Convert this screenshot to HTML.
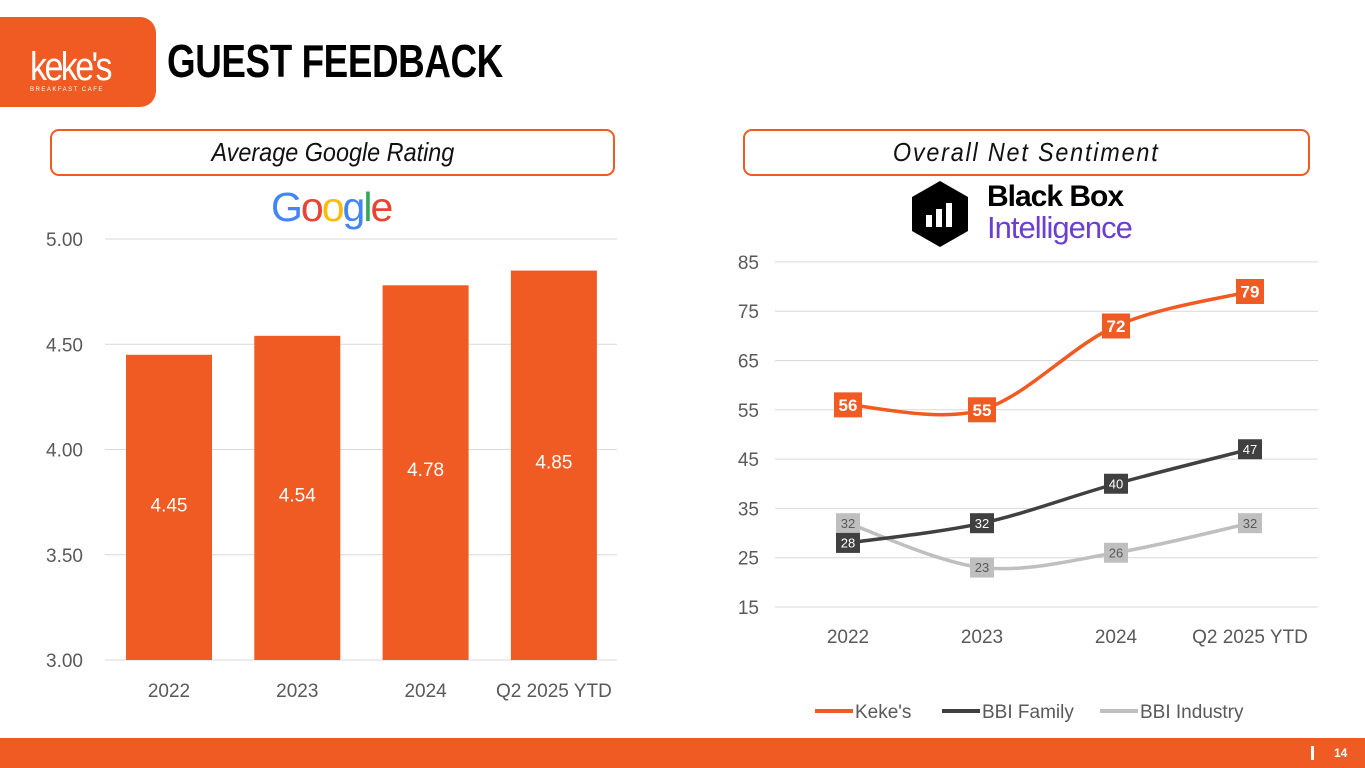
<!DOCTYPE html>
<html><head><meta charset="utf-8"><style>
body{margin:0;width:1365px;height:768px;background:#fff;position:relative;overflow:hidden;font-family:"Liberation Sans",sans-serif}
.abs{position:absolute}
.box{position:absolute;border:2px solid #F05A23;border-radius:9px;background:#fff;text-align:center;font-style:italic;font-size:26px;color:#111}
</style></head><body>
<div class="abs" style="left:0;top:17px;width:156px;height:90px;background:#F05A23;border-radius:0 16px 16px 0">
 <div class="abs" style="left:30px;top:30px;color:#fff;font-size:40px;letter-spacing:-3px;line-height:40px;transform:scaleX(0.85);transform-origin:left">keke's</div>
 <div class="abs" style="left:30px;top:70px;color:#fff;font-size:6px;letter-spacing:1.5px">BREAKFAST CAFE</div>
</div>
<div class="abs" style="left:167px;top:34px;font-size:46px;font-weight:bold;transform:scaleX(0.80);transform-origin:left;letter-spacing:-0.5px">GUEST FEEDBACK</div>
<div class="box" style="left:50px;top:129px;width:561px;height:43px;line-height:43px"><span style="display:inline-block;transform:scaleX(0.9)">Average Google Rating</span></div>
<div class="box" style="left:743px;top:129px;width:563px;height:43px;line-height:43px;letter-spacing:2px"><span style="display:inline-block;transform:scaleX(0.9)">Overall Net Sentiment</span></div>
<div class="abs" style="left:271px;top:184px;font-size:41px;letter-spacing:-2px"><span style="color:#4285F4">G</span><span style="color:#EA4335">o</span><span style="color:#FBBC05">o</span><span style="color:#4285F4">g</span><span style="color:#34A853">l</span><span style="color:#EA4335">e</span></div>
<svg class="abs" style="left:910px;top:181px" width="60" height="66"><polygon points="30,0 58,16 58,50 30,66 2,50 2,16" fill="#000"/><rect x="16" y="34" width="6" height="12" fill="#fff"/><rect x="26" y="28" width="6" height="18" fill="#fff"/><rect x="36" y="22" width="6" height="24" fill="#fff"/></svg>
<div class="abs" style="left:987px;top:181px;font-size:30px;font-weight:bold;line-height:32px;letter-spacing:-1px">Black Box</div>
<div class="abs" style="left:987px;top:211px;font-size:31px;color:#6B3FD0;line-height:34px;letter-spacing:-1px">Intelligence</div>
<svg id="c1" class="abs" style="left:0;top:0" width="1365" height="768"></svg>
<div class="abs" style="left:0;top:738px;width:1365px;height:30px;background:#F05A23">
 <div class="abs" style="left:1311px;top:8px;width:3px;height:14px;background:#fff"></div>
 <div class="abs" style="left:1334px;top:8px;color:#fff;font-size:12px;font-weight:bold">14</div>
</div>
<script>
const barCats=["2022","2023","2024","Q2 2025 YTD"];
const barVals=[4.45,4.54,4.78,4.85];
const barTicks=[3.00,3.50,4.00,4.50,5.00];
const lineCats=["2022","2023","2024","Q2 2025 YTD"];
const kekes=[56,55,72,79];
const bbiFamily=[28,32,40,47];
const bbiIndustry=[32,23,26,32];
const lineTicks=[15,25,35,45,55,65,75,85];
const svg=document.getElementById('c1');const NS="http://www.w3.org/2000/svg";
function mk(t,a,name){const e=document.createElementNS(NS,t);for(const k in a)e.setAttribute(k,a[k]);


svg.appendChild(e);return e;}
const narrow='Liberation Sans Narrow, Liberation Sans, sans-serif';
// bar chart
const y1=v=>660-(v-3)*210.5, x1=i=>169+i*128.3;
barTicks.forEach(t=>{mk('line',{x1:105,x2:617,y1:y1(t),y2:y1(t),stroke:'#d9d9d9','stroke-width':1},'bar-gridline');
const tx=mk('text',{x:83,y:y1(t)+7,'text-anchor':'end','font-size':19,fill:'#595959','font-family':narrow},'bar-y-tick');tx.textContent=t.toFixed(2);});
barVals.forEach((v,i)=>{mk('rect',{x:x1(i)-43,y:y1(v),width:86,height:660-y1(v),fill:'#F05A23'},'bar-'+barCats[i]);
const l=mk('text',{x:x1(i),y:y1(v)+(660-y1(v))*0.49+7,'text-anchor':'middle','font-size':19,fill:'#fff','font-family':narrow},'bar-value-label');l.textContent=v.toFixed(2);
const c=mk('text',{x:x1(i),y:697,'text-anchor':'middle','font-size':19,fill:'#595959','font-family':narrow},'bar-x-label');c.textContent=barCats[i];});
// line chart
const y2=v=>607-(v-15)*4.93, x2=i=>848+i*134;
lineTicks.forEach(t=>{mk('line',{x1:775,x2:1318,y1:y2(t),y2:y2(t),stroke:'#d9d9d9','stroke-width':1},'line-gridline');
const tx=mk('text',{x:759,y:y2(t)+7,'text-anchor':'end','font-size':19,fill:'#595959','font-family':narrow},'line-y-tick');tx.textContent=t;});
lineCats.forEach((c,i)=>{const t=mk('text',{x:x2(i),y:643,'text-anchor':'middle','font-size':19,fill:'#595959','font-family':narrow},'line-x-label');t.textContent=c;});
function smooth(vals){const p=vals.map((v,i)=>[x2(i),y2(v)]);let d=`M${p[0][0]},${p[0][1]}`;
for(let i=0;i<p.length-1;i++){const p0=p[Math.max(0,i-1)],p1=p[i],p2=p[i+1],p3=p[Math.min(p.length-1,i+2)];
d+=` C${p1[0]+(p2[0]-p0[0])/6},${p1[1]+(p2[1]-p0[1])/6} ${p2[0]-(p3[0]-p1[0])/6},${p2[1]-(p3[1]-p1[1])/6} ${p2[0]},${p2[1]}`;}return d;}
const series=[[bbiIndustry,'#BFBFBF','bbi-industry',13,'#595959'],[bbiFamily,'#404040','bbi-family',13,'#fff'],[kekes,'#F05A23','kekes',17,'#fff']];
series.forEach(([vals,col,name,fs,tc])=>{mk('path',{d:smooth(vals),fill:'none',stroke:col,'stroke-width':3.5},'line-'+name);
vals.forEach((v,i)=>{const w=fs>14?28:24,h=fs>14?25:20;
mk('rect',{x:x2(i)-w/2,y:y2(v)-h/2,width:w,height:h,fill:col},name+'-label-bg');
const t=mk('text',{x:x2(i),y:y2(v)+fs*0.36,'text-anchor':'middle','font-size':fs,'font-weight':fs>14?'bold':'normal',fill:tc,'font-family':narrow},name+'-label');t.textContent=v;});});
const leg=[["Keke's",'#F05A23',815],["BBI Family",'#404040',942],["BBI Industry",'#BFBFBF',1100]];
leg.forEach(([n,c,x])=>{mk('line',{x1:x,x2:x+38,y1:711,y2:711,stroke:c,'stroke-width':4},'legend-swatch');
const t=mk('text',{x:x+40,y:718,'font-size':19,fill:'#595959','font-family':narrow},'legend-entry');t.textContent=n;});
</script>
</body></html>
